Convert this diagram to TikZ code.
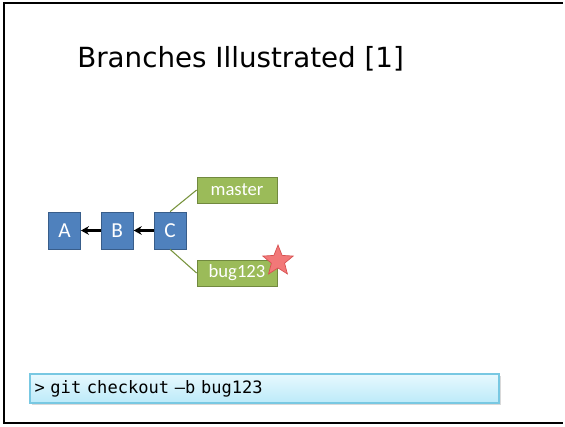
\documentclass[tikz,border=0pt]{standalone}
\usepackage{fontspec}
\setmainfont{Carlito}
\newfontfamily\titlefont{DejaVu Sans}
\newfontfamily\cmdfont{DejaVu Sans Mono}
\usepackage{tikz}
\usetikzlibrary{shapes.geometric, arrows.meta, positioning, shadows}
\definecolor{commitblue}{RGB}{79,129,189}
\definecolor{commitedge}{RGB}{56,93,138}
\definecolor{branchgreen}{RGB}{155,187,89}
\definecolor{branchedge}{RGB}{113,137,63}
\definecolor{linkgreen}{RGB}{119,147,60}
\definecolor{cmdtop}{RGB}{231,249,254}
\definecolor{cmdbottom}{RGB}{188,234,249}
\definecolor{cmdedge}{RGB}{120,200,226}
\definecolor{starfill}{RGB}{242,120,120}
\definecolor{staredge}{RGB}{214,80,80}

\begin{document}
\begin{tikzpicture}[
  x=0.75pt, y=-0.75pt,
  node distance=15pt,
  commit/.style={rectangle, draw=commitedge, fill=commitblue, line width=0.6pt,
                 minimum width=24pt, minimum height=27.75pt, inner sep=0pt,
                 text=white, font=\fontsize{16}{18}\selectfont},
  branch/.style={rectangle, draw=branchedge, fill=branchgreen, line width=0.6pt,
                 minimum width=60pt, minimum height=19.5pt, inner sep=0pt,
                 text=white, font=\fontsize{14}{16}\selectfont},
  cmdbox/.style={rectangle, draw=cmdedge, top color=cmdtop, bottom color=cmdbottom,
                 line width=0.8pt, minimum width=351.75pt, minimum height=21.75pt,
                 text width=345pt, align=left, inner sep=3pt,
                 drop shadow={shadow xshift=1.2pt, shadow yshift=-1.2pt, fill=black!25, opacity=0.6},
                 font=\cmdfont\fontsize{12.8}{14}\selectfont},
  parent/.style={-{Stealth[length=6pt, width=6.5pt]}, line width=1.6pt, black},
  link/.style={linkgreen, line width=0.8pt},
]
\useasboundingbox (0,0) rectangle (565,426);

% Slide frame (open on the right)
\draw[line width=1.5pt] (563,3) -- (4,3) -- (4,423) -- (563,423);

% Title
\node[anchor=base west, inner sep=0pt, font=\titlefont\fontsize{20.8}{24}\selectfont]
  (title) at (77,67) {Branches Illustrated [1]};

% Commits
\node[commit] (a) at (64.5,230.5) {A};
\node[commit, right=of a] (b) {B};
\node[commit, right=of b] (c) {C};

% Branches
\node[branch] (master) at (237,190) {master};
\node[branch] (bug)    at (237,273) {bug123};
\node[star, star points=5, star point ratio=2.3, minimum size=24pt, inner sep=0pt,
      fill=starfill, draw=staredge, line width=0.5pt] (head) at (278,261) {};

% Command
\node[cmdbox] (cmd) at (264.5,388.5) {> git checkout –b bug123};

% Arrows
\draw[parent] (b) -- (a);
\draw[parent] (c) -- (b);
\draw[link] (c.north) -- (master.west);
\draw[link] (c.south) -- (bug.west);

\end{tikzpicture}
\end{document}
